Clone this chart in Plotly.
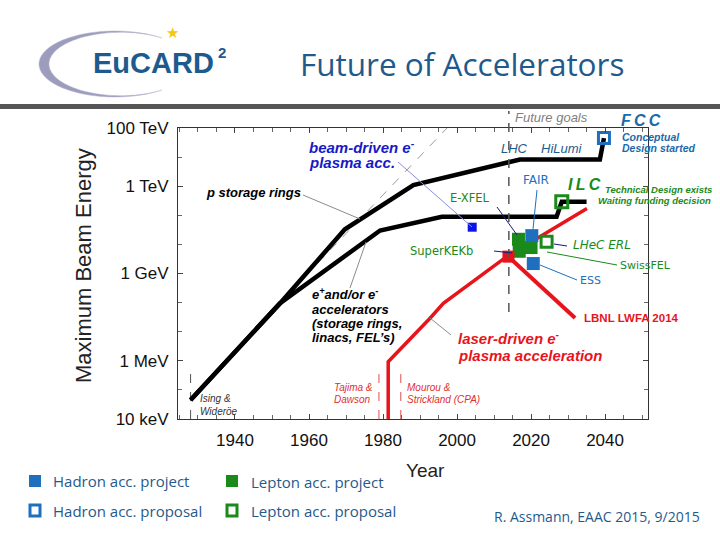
import numpy as np
import plotly.graph_objects as go

W, H = 720, 540

# ---------------- data (year, beam energy in eV) ----------------
proton_year = [1928, 1952.2, 1969.7, 1988.2, 2017.0, 2038.6, 2039.7]
proton_energy = [4.5e4, 9.6e7, 3.3e10, 1.1e12, 8.3e12, 8.3e12, 4.5e13]

lepton_year = [1928, 1952.2, 1979.2, 1995.9, 2026.9, 2028.3, 2035.0]
lepton_energy = [4.5e4, 9.6e7, 3.0e10, 8.9e10, 8.9e10, 2.9e11, 2.9e11]

laser_year = [1981.4, 1981.4, 1992.7, 1996.3, 2013.4, 2035.1]
laser_energy = [1e4, 9.3e5, 2.9e7, 9.5e7, 3.8e9, 1.7e11]

livingston_year = [1962.4, 1997.3]
livingston_energy = [2.3e9, 1e14]

milestone_names = ["Ising & Wideröe", "Tajima & Dawson", "Mourou & Strickland"]
milestone_year = [1928.0, 1978.9, 1984.8]
milestone_top = [3.8e5, 3.5e5, 3.5e5]

present_year = 2014.0

beam_driven_year = [2004.1]
beam_driven_energy = [3.9e10]

hadron_project_names = ["FAIR", "ESS"]
hadron_project_year = [2020.2, 2020.6]
hadron_project_energy = [2.0e10, 2.2e9]

lepton_project_names = ["E-XFEL", "SuperKEKb", "SwissFEL"]
lepton_project_year = [2016.6, 2016.8, 2020.0]
lepton_project_energy = [1.5e10, 5.8e9, 7.8e9]

lepton_proposal_names = ["ILC", "LHeC ERL"]
lepton_proposal_year = [2028.3, 2024.2]
lepton_proposal_energy = [2.9e11, 1.23e10]

hadron_proposal_names = ["FCC"]
hadron_proposal_year = [2039.7]
hadron_proposal_energy = [4.5e13]

lbnl_year = [2013.9]
lbnl_energy = [3.8e9]

x_tick_years = [1940, 1960, 1980, 2000, 2020, 2040]
y_tick_values = [1e4, 1e6, 1e9, 1e12, 1e14]
y_tick_text = ["10 keV", "1 MeV", "1 GeV", "1 TeV", "100 TeV"]

# ---------------- layout geometry ----------------
XR = [1924.6, 2051.6]
XDOM = [178 / W, 648 / W]
YDOM = [1 - 419 / H, 1 - 128 / H]

def X(px):
    return px / W

def Y(py):
    return 1 - py / H

def year_to_paper(yr):
    return XDOM[0] + (yr - XR[0]) / (XR[1] - XR[0]) * (XDOM[1] - XDOM[0])

BLUE = "#1f6fbf"
GREEN = "#1a8a1a"
RED = "#e8141c"
TXTBLUE = "#1f5a8c"
CHART_FONT = "Liberation Sans"
SLIDE_FONT = "Open Sans"

fig = go.Figure()

# dashed Livingston-type extrapolation
fig.add_trace(go.Scatter(x=livingston_year, y=livingston_energy, mode="lines",
                         line=dict(color="#9a9a9a", width=1, dash="dash"), hoverinfo="skip"))
# milestones
for i, (yr, top) in enumerate(zip(milestone_year, milestone_top)):
    fig.add_trace(go.Scatter(x=[yr, yr], y=[1e4, top], mode="lines",
                             line=dict(color="#555555" if i == 0 else "#e05050", width=1, dash="dash"),
                             hoverinfo="skip"))
# main lines
fig.add_trace(go.Scatter(x=proton_year, y=proton_energy, mode="lines",
                         line=dict(color="black", width=4.5), hoverinfo="skip"))
fig.add_trace(go.Scatter(x=lepton_year, y=lepton_energy, mode="lines",
                         line=dict(color="black", width=4.5), hoverinfo="skip"))
fig.add_trace(go.Scatter(x=laser_year, y=laser_energy, mode="lines",
                         line=dict(color=RED, width=3.5), hoverinfo="skip"))
# LBNL leader (thick red)
fig.add_trace(go.Scatter(x=[lbnl_year[0], 2031.9], y=[lbnl_energy[0], 2.95e7], mode="lines",
                         line=dict(color=RED, width=4), hoverinfo="skip"))

# markers
fig.add_trace(go.Scatter(x=beam_driven_year, y=beam_driven_energy, mode="markers",
                         marker=dict(symbol="square", size=9, color="#0a14e6"), hoverinfo="skip"))
fig.add_trace(go.Scatter(x=lepton_project_year, y=lepton_project_energy, mode="markers",
                         marker=dict(symbol="square", size=13, color=GREEN), hoverinfo="skip"))
fig.add_trace(go.Scatter(x=lepton_proposal_year[1:], y=lepton_proposal_energy[1:], mode="markers",
                         marker=dict(symbol="square", size=11, color="white",
                                     line=dict(color=GREEN, width=3)), hoverinfo="skip"))
fig.add_trace(go.Scatter(x=lepton_proposal_year[:1], y=lepton_proposal_energy[:1], mode="markers",
                         marker=dict(symbol="square-open", size=12,
                                     line=dict(color=GREEN, width=3), color=GREEN), hoverinfo="skip"))
fig.add_trace(go.Scatter(x=hadron_proposal_year, y=hadron_proposal_energy, mode="markers",
                         marker=dict(symbol="square-open", size=11,
                                     line=dict(color=BLUE, width=3), color=BLUE), hoverinfo="skip"))
fig.add_trace(go.Scatter(x=hadron_project_year, y=hadron_project_energy, mode="markers",
                         marker=dict(symbol="square", size=13, color=BLUE), hoverinfo="skip"))
fig.add_trace(go.Scatter(x=lbnl_year, y=lbnl_energy, mode="markers",
                         marker=dict(symbol="square", size=12, color=RED), hoverinfo="skip"))

# ---------------- shapes ----------------
shapes = []

def seg(x0, y0, x1, y1, color, width=1, dash="solid"):
    shapes.append(dict(type="line", xref="paper", yref="paper", x0=X(x0), y0=Y(y0),
                       x1=X(x1), y1=Y(y1), line=dict(color=color, width=width, dash=dash)))

# header bar
shapes.append(dict(type="rect", xref="paper", yref="paper", x0=0, x1=1, y0=Y(109), y1=Y(104),
                   fillcolor="#555555", line=dict(width=0)))
# present-day dashed line (extends above the frame to "Future goals")
xp = year_to_paper(present_year)
shapes.append(dict(type="line", xref="paper", yref="paper", x0=xp, x1=xp, y0=Y(312), y1=Y(111),
                   line=dict(color="#555555", width=1.5, dash="dash")))

# leader lines
seg(303, 195, 360, 219, "#8a8a8a")
seg(350, 288, 366, 242, "#8a8a8a")
seg(451, 335, 430, 318, "#8a8a8a")
seg(398, 162, 472, 227, "#8c8ce0")
seg(497, 207, 517, 235, "#1a1a70")
seg(494, 251, 512, 253, "#1a1a70")
seg(554, 244, 567, 246, "#1a1a70")
seg(547, 252, 617, 265, GREEN)
seg(540, 265, 577, 280, BLUE)
seg(537, 190, 533, 229, BLUE)

# logo swoosh (crescent)
t = np.radians(np.linspace(-52, -308, 80))
outer = [(115 + 76 * np.cos(a), 64 + 33 * np.sin(a)) for a in t]
w = np.sin((t - t[0]) / (t[-1] - t[0]) * np.pi)
inner = [(115 + (76 - 6 * wi) * np.cos(a) + 4 * wi, 64 + (33 - 3 * wi) * np.sin(a)) for a, wi in zip(t, w)]
pts = outer + inner[::-1]
path = "M " + " L ".join(f"{X(px):.5f},{Y(py):.5f}" for px, py in pts) + " Z"
shapes.append(dict(type="path", xref="paper", yref="paper", path=path,
                   fillcolor="#9c9cbc", line=dict(color="#b8b8d0", width=0.5)))

# legend squares
shapes.append(dict(type="rect", xref="paper", yref="paper", x0=X(29), x1=X(41), y0=Y(487), y1=Y(475),
                   fillcolor=BLUE, line=dict(width=0)))
shapes.append(dict(type="rect", xref="paper", yref="paper", x0=X(226), x1=X(238), y0=Y(487), y1=Y(475),
                   fillcolor=GREEN, line=dict(width=0)))
shapes.append(dict(type="rect", xref="paper", yref="paper", x0=X(30), x1=X(40), y0=Y(516), y1=Y(505),
                   fillcolor="white", line=dict(color=BLUE, width=3)))
shapes.append(dict(type="rect", xref="paper", yref="paper", x0=X(227), x1=X(237), y0=Y(516), y1=Y(505),
                   fillcolor="white", line=dict(color=GREEN, width=3)))

# ---------------- annotations ----------------
annotations = []

def label(text, x, y, size, color, family=CHART_FONT, xanchor="left", yanchor="middle", angle=0):
    annotations.append(dict(text=text, x=X(x), y=Y(y), xref="paper", yref="paper", showarrow=False,
                            xanchor=xanchor, yanchor=yanchor, textangle=angle, borderpad=0,
                            font=dict(size=size, color=color, family=family)))

# slide header
label("Future of Accelerators", 462, 63, 31.5, TXTBLUE, SLIDE_FONT, xanchor="center")
label("<b>EuCARD</b>", 153, 63, 29, "#1d5a8e", CHART_FONT, xanchor="center")
label("<b>2</b>", 222, 52, 15, "#1d5a8e", CHART_FONT, xanchor="center")
label("★", 172, 33, 15, "#f2c811", "DejaVu Sans", xanchor="center")

# axis titles
label("Maximum Beam Energy", 83, 266, 22, "#222222", CHART_FONT, xanchor="center", angle=-90)
label("Year", 425, 470, 19, "#222222", CHART_FONT, xanchor="center")

# chart labels
label("<b><i>beam-driven e<sup>-</sup></i></b>", 308, 146, 15, "#1818c8")
label("<b><i>plasma acc.</i></b>", 308, 163, 15, "#1818c8")
label("<b><i>p storage rings</i></b>", 302, 192, 13, "black", xanchor="right")
label("<b><i>e<sup>+</sup>and/or e<sup>-</sup></i></b>", 311, 294, 13, "black")
label("<b><i>accelerators</i></b>", 311, 309, 13, "black")
label("<b><i>(storage rings,</i></b>", 311, 323, 13, "black")
label("<b><i>linacs, FEL’s)</i></b>", 311, 337, 13, "black")
label("<b><i>laser-driven e<sup>-</sup></i></b>", 457, 337, 15, RED)
label("<b><i>plasma acceleration</i></b>", 457, 355, 15, RED)
label("<i>Ising &</i>", 199, 398, 10, "#333333")
label("<i>Wideröe</i>", 199, 411, 10, "#333333")
label("<i>Tajima &</i>", 333, 387, 10, "#e03030")
label("<i>Dawson</i>", 333, 399, 10, "#e03030")
label("<i>Mourou &</i>", 406, 387, 10, "#e03030")
label("<i>Strickland (CPA)</i>", 406, 399, 10, "#e03030")

label("<i>Future goals</i>", 514, 117, 13, "#808080")
label("<i>LHC</i>", 500, 148, 13, TXTBLUE)
label("<i>HiLumi</i>", 540, 148, 13, TXTBLUE)
label("FAIR", 522, 180, 12, BLUE, "DejaVu Sans")
label("E-XFEL", 449, 198, 11.5, GREEN, "DejaVu Sans")
label("SuperKEKb", 409, 251, 11.5, GREEN, "DejaVu Sans")
label("<i>LHeC ERL</i>", 572, 245, 12, GREEN, "DejaVu Sans")
label("SwissFEL", 619, 265, 11, GREEN, "DejaVu Sans")
label("ESS", 579, 280, 11, BLUE, "DejaVu Sans")
label("<b>LBNL LWFA 2014</b>", 583, 318, 11.5, RED)

label("<b><i>F\u2009C\u2009C</i></b>", 620, 120, 16, "#1a6aaa")
label("<b><i>Conceptual</i></b>", 621, 137, 10.5, "#1a6aaa")
label("<b><i>Design started</i></b>", 621, 148, 10.5, "#1a6aaa")
label("<b><i>I\u2009L\u2009C</i></b>", 567, 184, 16, GREEN)
label("<b><i>Technical Design exists</i></b>", 604, 189, 9.5, GREEN)
label("<b><i>Waiting funding decision</i></b>", 597, 200, 9.5, GREEN)

# legend text
label("Hadron acc. project", 52, 481, 15, TXTBLUE, SLIDE_FONT)
label("Lepton acc. project", 250, 482, 15, TXTBLUE, SLIDE_FONT)
label("Hadron acc. proposal", 52, 511, 15, TXTBLUE, SLIDE_FONT)
label("Lepton acc. proposal", 250, 511, 15, TXTBLUE, SLIDE_FONT)
label("R. Assmann, EAAC 2015, 9/2015", 493, 516, 14, TXTBLUE, SLIDE_FONT)

fig.update_layout(
    width=W, height=H,
    margin=dict(l=0, r=0, t=0, b=0, pad=0, autoexpand=False),
    paper_bgcolor="white", plot_bgcolor="white",
    showlegend=False,
    shapes=shapes, annotations=annotations,
    xaxis=dict(domain=XDOM, range=XR, tickmode="array", tickvals=x_tick_years, automargin=False,
               ticks="inside", ticklen=5, tickcolor="#444", showgrid=False, zeroline=False,
               showline=True, linecolor="#333", linewidth=1, mirror="ticks",
               tickfont=dict(family=CHART_FONT, size=17, color="#111"), ticklabelstandoff=6,
               minor=dict(dtick=5, tick0=1925, ticks="inside", ticklen=4, tickcolor="#666",
                          showgrid=False),
               fixedrange=True),
    yaxis=dict(domain=YDOM, type="log", range=[4, 14], tickmode="array", automargin=False,
               tickvals=y_tick_values, ticktext=y_tick_text,
               ticks="inside", ticklen=5, tickcolor="#444", showgrid=False, zeroline=False,
               showline=True, linecolor="#333", linewidth=1, mirror="ticks",
               tickfont=dict(family=CHART_FONT, size=17, color="#111"), ticklabelstandoff=5,
               minor=dict(tickmode="array", tickvals=[10.0 ** k for k in range(4, 15)],
                          ticks="inside", ticklen=4, tickcolor="#666", showgrid=False),
               fixedrange=True),
)

fig.write_html("out.html", config={"displayModeBar": False},
               post_script="document.body.style.margin='0';")
